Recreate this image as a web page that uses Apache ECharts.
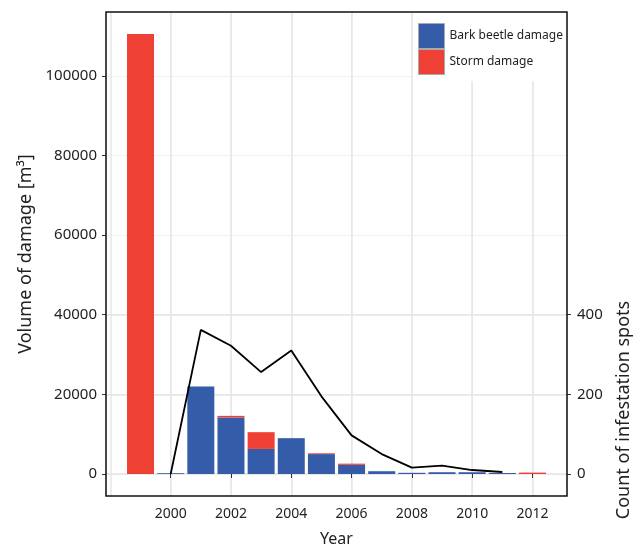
<!DOCTYPE html>
<html>
<head>
<meta charset="utf-8">
<script src="https://cdn.jsdelivr.net/npm/echarts@6/dist/echarts.min.js"></script>
<style>
  html, body { margin: 0; padding: 0; background: #fff; }
  #chart { width: 643px; height: 547px; }
</style>
</head>
<body>
<div id="chart"></div>
<script>
// values
const years = [1999, 2000, 2001, 2002, 2003, 2004, 2005, 2006, 2007, 2008, 2009, 2010, 2011, 2012]
const barkBeetle = [0, 200, 22000, 14200, 6300, 9000, 5000, 2300, 700, 300, 450, 450, 250, 0]
const storm = [110500, 0, 0, 400, 4200, 0, 200, 300, 0, 0, 0, 0, 0, 350]
const spotYears = [2000, 2001, 2002, 2003, 2004, 2005, 2006, 2007, 2008, 2009, 2010, 2011]
const spots = [0, 362, 322, 256, 310, 195, 97, 50, 16, 21, 10, 5]
const volumeTicks = [0, 20000, 40000, 60000, 80000, 100000]
const spotTicks = [0, 200, 400]
const yearTicks = [2000, 2002, 2004, 2006, 2008, 2010, 2012]

const FONT = 'Noto Sans'
const txt = '#222'
const majorGrid = { color: '#e6e6e6', width: 1.5 }
const minorGrid = { color: '#f0f0f0', width: 1 }

const chart = echarts.init(document.getElementById('chart'))

const tickStyle = { show: true, length: 4, lineStyle: { color: '#333', width: 1 } }

// value first, year second, so the stack goes on the value (y) dimension
const stackPairs = vals => years.map((y, i) => [vals[i], y])

chart.setOption({
  animation: false,
  textStyle: { fontFamily: FONT },
  grid: {
    left: 106, right: 76, top: 12, bottom: 51,
    outerBoundsMode: 'none',
    show: true, borderColor: '#111', borderWidth: 1.5, backgroundColor: 'transparent', z: 10
  },
  // the right-hand title sits lower than the panel middle in the original
  graphic: [{
    type: 'text',
    x: 624, y: 410,
    rotation: Math.PI / 2,
    style: {
      text: 'Count of infestation spots',
      font: '18px "Noto Sans"',
      fill: txt,
      align: 'center',
      verticalAlign: 'middle'
    }
  }],
  legend: {
    orient: 'vertical',
    left: 413, top: 12,
    padding: [11, 4, 6, 5],
    itemGap: 0,
    itemWidth: 26, itemHeight: 25,
    backgroundColor: '#fff',
    itemStyle: { borderColor: '#aaa', borderWidth: 1 },
    textStyle: { fontFamily: FONT, fontSize: 12, color: txt },
    data: [
      { name: 'Bark beetle damage', icon: 'rect' },
      { name: 'Storm damage', icon: 'rect' }
    ]
  },
  xAxis: [{
    type: 'value',
    min: 1997.855, max: 2013.145,
    splitNumber: 15,
    name: 'Year', nameLocation: 'middle', nameGap: 35,
    nameTextStyle: { fontSize: 16, color: txt, fontFamily: FONT },
    axisLine: { show: false },
    axisTick: Object.assign({ customValues: yearTicks }, tickStyle),
    axisLabel: {
      customValues: yearTicks, margin: 11, fontSize: 14, color: txt, fontFamily: FONT,
      formatter: v => String(v)
    },
    splitLine: { show: true, lineStyle: minorGrid }
  }, {
    // only used for the heavier grid lines on even years
    type: 'value', position: 'top',
    min: 1997.855, max: 2013.145,
    splitNumber: 8,
    axisLine: { show: false }, axisTick: { show: false }, axisLabel: { show: false },
    splitLine: { show: true, lineStyle: majorGrid }
  }],
  yAxis: [{
    type: 'value',
    min: -5525, max: 116025,
    splitNumber: 12,
    name: 'Volume of damage [m³]', nameLocation: 'middle', nameGap: 71,
    nameTextStyle: { fontSize: 18, color: txt, fontFamily: FONT },
    axisLine: { show: false },
    axisTick: Object.assign({ customValues: volumeTicks }, tickStyle),
    axisLabel: {
      customValues: volumeTicks, margin: 9, fontSize: 15, color: txt, fontFamily: FONT,
      formatter: v => String(v)
    },
    splitLine: { show: true, lineStyle: minorGrid }
  }, {
    type: 'value',
    position: 'right',
    min: -55.25, max: 1160.25,
    splitNumber: 6,
    axisLine: { show: false },
    axisTick: Object.assign({ customValues: spotTicks }, tickStyle),
    axisLabel: {
      customValues: spotTicks, margin: 10, fontSize: 15, color: txt, fontFamily: FONT,
      formatter: v => String(v)
    },
    splitLine: { show: true, lineStyle: majorGrid }
  }],
  series: [{
    name: 'Bark beetle damage',
    type: 'bar',
    stack: 'damage',
    barWidth: 27,
    xAxisIndex: 0, yAxisIndex: 0,
    encode: { x: 1, y: 0 },
    itemStyle: { color: '#345ca8' },
    data: stackPairs(barkBeetle)
  }, {
    name: 'Storm damage',
    type: 'bar',
    stack: 'damage',
    barWidth: 27,
    xAxisIndex: 0, yAxisIndex: 0,
    encode: { x: 1, y: 0 },
    itemStyle: { color: '#ef4035' },
    data: stackPairs(storm)
  }, {
    name: 'spots',
    type: 'line',
    xAxisIndex: 0, yAxisIndex: 1,
    symbol: 'none',
    lineStyle: { color: '#000', width: 1.8 },
    z: 5,
    data: spotYears.map((y, i) => [y, spots[i]])
  }]
})
</script>
</body>
</html>
